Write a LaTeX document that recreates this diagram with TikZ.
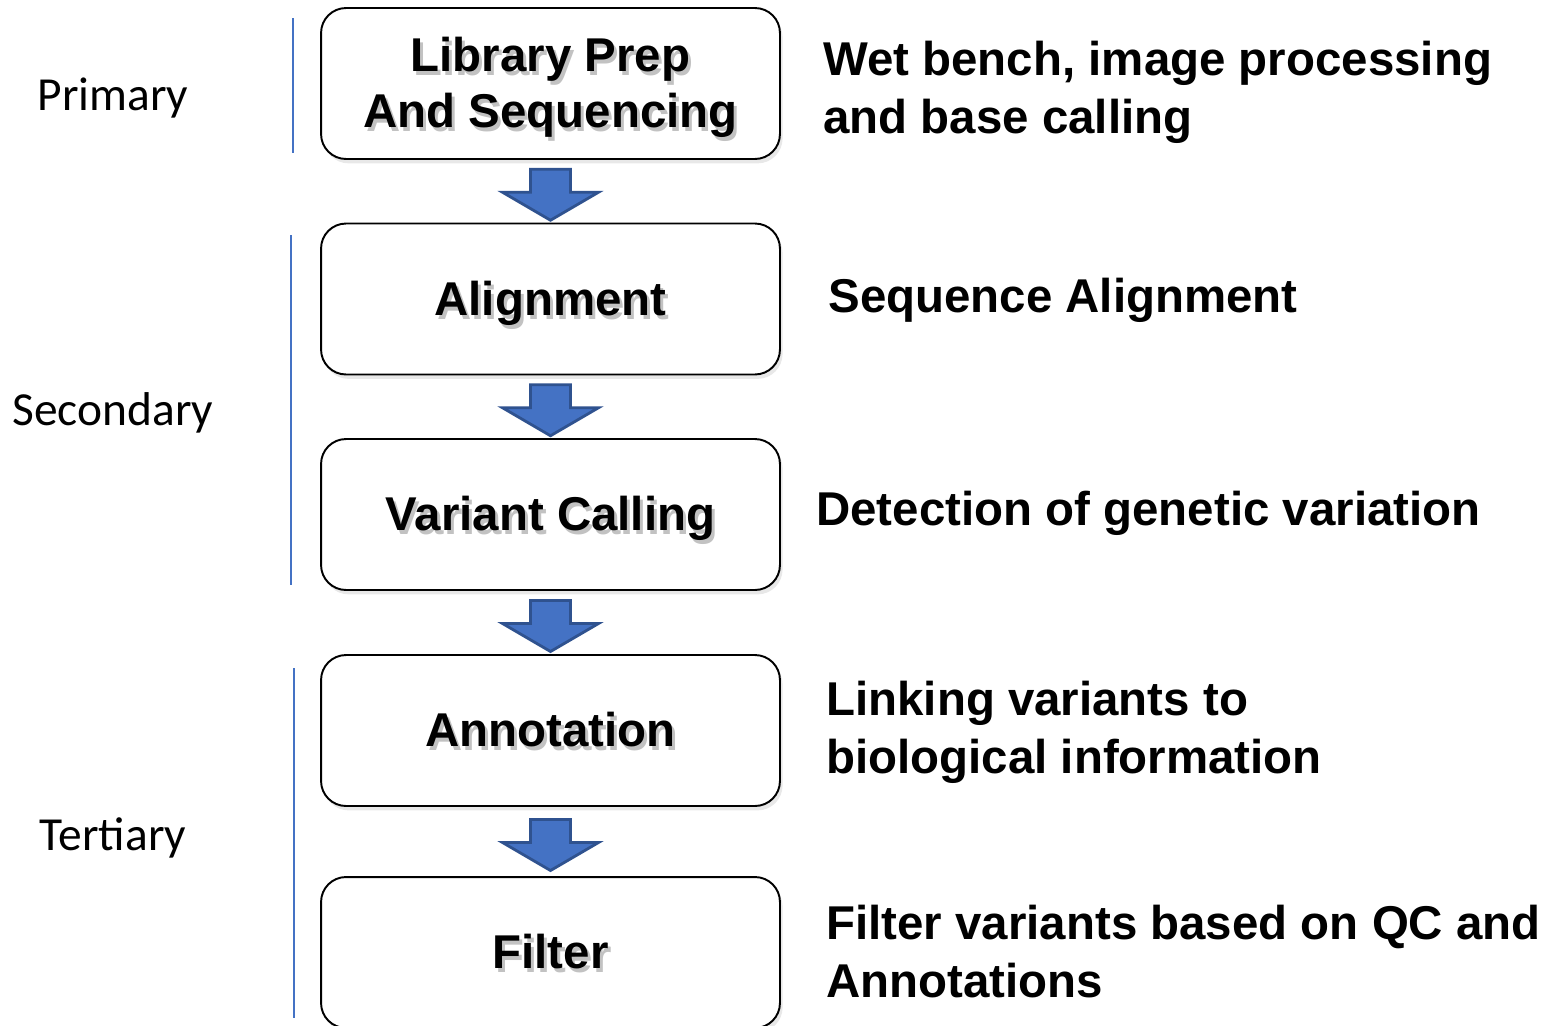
\documentclass[tikz,border=0pt]{standalone}
\usepackage{fontspec}
\setmainfont{Liberation Sans}
\newfontfamily\tierfont{Carlito}
\usetikzlibrary{shadows,calc}
\definecolor{flowblue}{HTML}{4472C4}
\definecolor{flowedge}{HTML}{2F528F}
\newcommand\shadowtxt[1]{%
  \raisebox{-4pt}[\height][\depth]{%
  \makebox[0pt][l]{\hspace{1.7pt}\raisebox{-2.2pt}{\color{black!24}\begin{tabular}{@{}c@{}}#1\end{tabular}}}%
  \begin{tabular}{@{}c@{}}#1\end{tabular}}}

\begin{document}
\begin{tikzpicture}[
    x=0.02cm, y=-0.02cm,
    stepbox/.style={draw, line width=1.1pt, rounded corners=0.5cm, fill=white, minimum width=9.18cm, minimum height=3.02cm, inner sep=0pt, font=\fontsize{27}{32}\selectfont\bfseries, drop shadow={shadow xshift=1.5pt, shadow yshift=-2.5pt, opacity=0.18}},
    note/.style={anchor=west, align=left, inner sep=0pt, font=\fontsize{27}{33}\selectfont\bfseries},
    tier/.style={font=\tierfont\fontsize{27}{32}\selectfont},
    bracket/.style={flowblue, line width=0.8pt},
    blockarrow/.style={fill=flowblue, draw=flowedge, line width=1.6pt, line join=miter}
]
\useasboundingbox (0,0) rectangle (1550,1025);

\node[stepbox] (library) at (550.5,83.5) {\shadowtxt{Library Prep\\And Sequencing}};
\node[stepbox] (align) at (550.5,299) {\shadowtxt{Alignment}};
\node[stepbox] (variant) at (550.5,514.5) {\shadowtxt{Variant Calling}};
\node[stepbox] (annot) at (550.5,730.5) {\shadowtxt{Annotation}};
\node[stepbox] (filter) at (550.5,952.5) {\shadowtxt{Filter}};

\foreach \a/\b in {library/align, align/variant, variant/annot, annot/filter}{
  \path (\a.south) -- (\b.north) coordinate[midway] (gap-\a);
  \draw[blockarrow] (gap-\a) ++(-20,-22) -- ++(40,0) -- ++(0,23) -- ++(28,0)
    -- ++(-48,28) -- ++(-48,-28) -- ++(28,0) -- cycle;
}

\node[note] (library-note) at (823,92) {Wet bench, image processing\\and base calling};
\node[note] (align-note) at (828,300) {Sequence Alignment};
\node[note] (variant-note) at (816,513) {Detection of genetic variation};
\node[note] (annot-note) at (826,732) {Linking variants to\\biological information};
\node[note] (filter-note) at (826,952) {Filter variants based on QC and\\Annotations};

\node[tier] (primary) at (113,98) {Primary};
\node[tier] (secondary) at (113,413) {Secondary};
\node[tier] (tertiary) at (113,838) {Tertiary};
\draw[bracket] (293,18) -- (293,153);
\draw[bracket] (291,235) -- (291,585);
\draw[bracket] (294,668) -- (294,1018);
\end{tikzpicture}
\end{document}
